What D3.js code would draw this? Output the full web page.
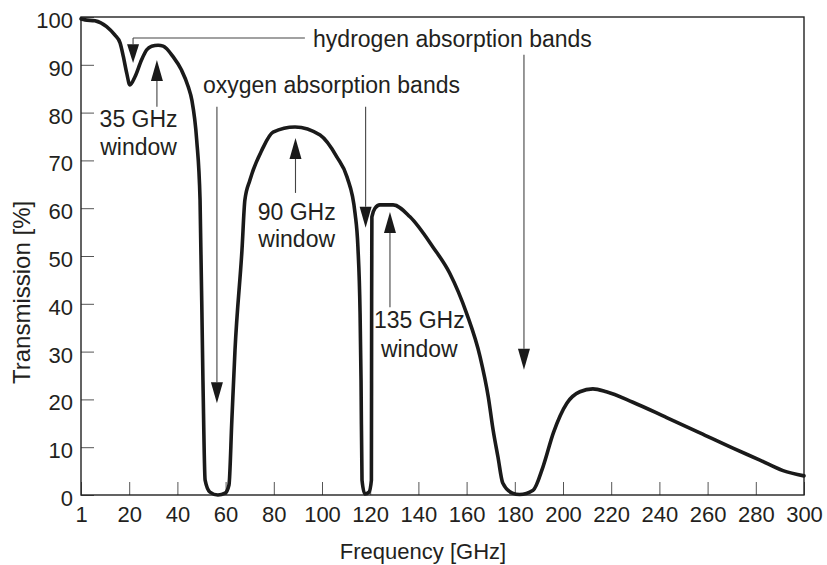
<!DOCTYPE html>
<html>
<head>
<meta charset="utf-8">
<script src="https://cdn.jsdelivr.net/npm/d3@7"></script>
<style>
  html, body { margin: 0; padding: 0; background: #fff; }
  svg { display: block; font-family: "Liberation Sans", Arial, Helvetica, sans-serif; }
</style>
</head>
<body>
<svg id="chart" width="827" height="565"></svg>
<script>
// ---- data ----
const freqGHz = [1, 2.6, 6.5, 11.1, 14.4, 16.4, 17.7, 19.0, 20.3, 22.4, 25.1, 27.2, 29.3, 32, 34.1, 38.2, 41.7, 44.5, 46, 48, 49.4, 50.6, 51.5, 53.5, 56.8, 59.8, 61.4, 62.6, 63.9, 66.8, 68, 70.1, 75.1, 79.7, 88.8, 99.2, 106.2, 110.4, 113.7, 114.9, 115.8, 116.2, 116.6, 117.8, 119.5, 120.5, 120.6, 120.7, 122, 124, 129.5, 136.5, 146, 153, 160, 165.6, 169, 171, 173, 175, 179, 182, 187.6, 191.7, 196, 201.6, 207, 212.4, 218, 229, 243, 256.8, 270.5, 281.7, 291.3, 300];
const transmission = [99.6, 99.4, 99.2, 98, 96.2, 94.6, 91.7, 88.3, 85.8, 87.5, 91, 93.1, 93.9, 94.1, 93.9, 91.7, 88.9, 85.4, 82.6, 74.3, 61.7, 24, 3.1, 0.6, 0, 0.4, 2.1, 15.7, 30.3, 51.3, 61.7, 65.9, 72.2, 75.9, 77, 75.3, 70.7, 66.5, 59, 51.9, 38, 24, 3.1, 0.2, 0.6, 3.1, 40.8, 58.2, 60, 60.7, 60.7, 58.2, 51.9, 46.4, 38, 28.9, 20.5, 13.6, 8, 2.5, 0.4, 0.1, 1, 5.9, 13, 19.2, 21.6, 22.2, 21.6, 19.4, 16.2, 13.0, 9.8, 7.3, 5.1, 4.0];

const xTickValues = [1, 20, 40, 60, 80, 100, 120, 140, 160, 180, 200, 220, 240, 260, 280, 300];
const yTickValues = [0, 10, 20, 30, 40, 50, 60, 70, 80, 90, 100];

// arrows: frequency, tail transmission, tip transmission
const arrowFreq = [21.6, 183.8, 56.4, 118.1, 31.5, 89, 128.2];
const arrowTail = [95.6, 92.1, 81.2, 81.2, 81.2, 63.2, 39.3];
const arrowTip  = [90.4, 26.2, 19.2, 55.9, 91.0, 74.7, 59.2];

// connector line from the first hydrogen arrow to its label
const connectorFreq = [21.6, 92.9];
const connectorT = 95.6;

// text labels
const labelTexts  = ["hydrogen absorption bands", "oxygen absorption bands", "35 GHz", "window", "90 GHz", "window", "135 GHz", "window"];
const labelFreq   = [96.3, 50.6, 23.9, 23.9, 89.5, 89.5, 140.4, 140.4];
const labelT      = [93.7, 84.1, 77.0, 71.1, 57.5, 51.9, 34.9, 28.9];
const labelAnchor = ["start", "start", "middle", "middle", "middle", "middle", "middle", "middle"];

const xTitle = "Frequency [GHz]";
const yTitle = "Transmission [%]";

// ---- layout ----
const mLeft = 81, mRight = 804, mTop = 17, mBottom = 495;
const svg = d3.select("#chart");
const ink = "#231f20";

const x = d3.scaleLinear()
  .domain([1, 20, 300])
  .range([mLeft, mLeft + (mRight - mLeft) / 15, mRight]);
const y = d3.scaleLinear().domain([0, 100]).range([mBottom, mTop]);

// axes
const xAxis = d3.axisBottom(x).tickValues(xTickValues).tickFormat(d3.format("d"))
  .tickSizeInner(-13).tickSizeOuter(0).tickPadding(11);
const yAxis = d3.axisLeft(y).tickValues(yTickValues).tickFormat(d3.format("d"))
  .tickSizeInner(-13).tickSizeOuter(0).tickPadding(8);

const gx = svg.append("g").attr("transform", `translate(0,${mBottom})`).call(xAxis);
const gy = svg.append("g").attr("transform", `translate(${mLeft},0)`).call(yAxis);
[gx, gy].forEach(g => {
  g.select(".domain").remove();
  g.selectAll(".tick line").attr("stroke", "#555").attr("stroke-width", 1);
  g.selectAll(".tick text").attr("fill", ink).style("font-size", "22px");
});
gy.selectAll(".tick text").attr("dy", "0.48em");

// frame
svg.append("rect")
  .attr("x", mLeft).attr("y", mTop)
  .attr("width", mRight - mLeft).attr("height", mBottom - mTop)
  .attr("fill", "none").attr("stroke", "#222").attr("stroke-width", 1.4);

// curve
const pts = freqGHz.map((f, i) => [f, transmission[i]]);
const line = d3.line().x(d => x(d[0])).y(d => y(d[1])).curve(d3.curveMonotoneX);
svg.append("path").datum(pts)
  .attr("d", line)
  .attr("fill", "none").attr("stroke", "#1a1a1a")
  .attr("stroke-width", 3.6).attr("stroke-linejoin", "round").attr("stroke-linecap", "round");

// annotation connector
svg.append("line")
  .attr("x1", x(connectorFreq[0])).attr("x2", x(connectorFreq[1]))
  .attr("y1", y(connectorT)).attr("y2", y(connectorT))
  .attr("stroke", "#444").attr("stroke-width", 1.1);

// arrows
const headLen = 21, headW = 12;
arrowFreq.forEach((f, i) => {
  const ax = x(f), y0 = y(arrowTail[i]), y1 = y(arrowTip[i]);
  const dir = Math.sign(y1 - y0);
  const len = Math.min(headLen, Math.abs(y1 - y0) * 0.75);
  const yb = y1 - dir * len;
  svg.append("line")
    .attr("x1", ax).attr("x2", ax).attr("y1", y0).attr("y2", yb)
    .attr("stroke", "#444").attr("stroke-width", 1.1);
  svg.append("path")
    .attr("d", `M${ax},${y1} L${ax - headW / 2},${yb} L${ax + headW / 2},${yb} Z`)
    .attr("fill", "#1a1a1a");
});

// labels
labelTexts.forEach((t, i) => {
  svg.append("text")
    .attr("x", x(labelFreq[i])).attr("y", y(labelT[i]))
    .attr("text-anchor", labelAnchor[i])
    .attr("fill", ink).style("font-size", "23px")
    .text(t);
});

// axis titles
svg.append("text")
  .attr("x", 423).attr("y", 559).attr("text-anchor", "middle")
  .attr("fill", ink).style("font-size", "22px").text(xTitle);
svg.append("text")
  .attr("transform", "translate(30,384) rotate(-90)")
  .attr("text-anchor", "start")
  .attr("fill", ink).style("font-size", "24px").text(yTitle);
</script>
</body>
</html>
